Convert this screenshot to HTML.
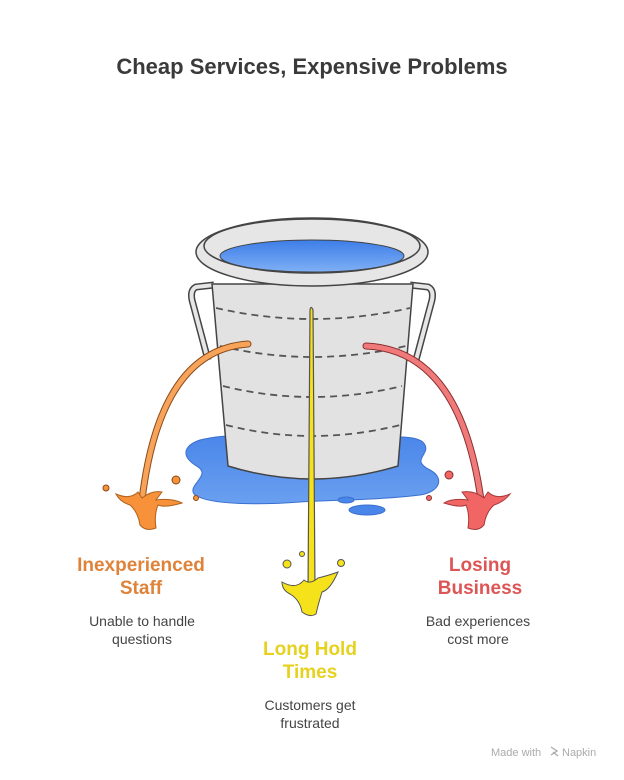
<!DOCTYPE html>
<html><head><meta charset="utf-8"><style>
html,body{margin:0;padding:0;background:#fff;}
svg{display:block;}
text{font-family:"Liberation Sans",sans-serif;}
</style></head><body>
<svg width="624" height="780" viewBox="0 0 624 780" xmlns="http://www.w3.org/2000/svg">
<defs>
<linearGradient id="w" x1="0" y1="0" x2="0" y2="1"><stop offset="0" stop-color="#3d7de8"/><stop offset="1" stop-color="#7fb0f5"/></linearGradient>
<linearGradient id="p" x1="0" y1="0" x2="0" y2="1"><stop offset="0" stop-color="#4a86ea"/><stop offset="1" stop-color="#6aa0f0"/></linearGradient>
</defs>
<text x="312" y="74" text-anchor="middle" font-size="22" font-weight="bold" fill="#3a3a3a">Cheap Services, Expensive Problems</text>

<!-- puddle -->
<path d="M200 440 C240 430 300 438 330 440 C380 438 420 432 425 445 C430 455 410 460 430 470 C445 478 440 492 420 495 C380 500 330 500 300 502 C260 505 210 505 195 495 C185 485 215 475 195 465 C180 455 185 445 200 440Z" fill="url(#p)" stroke="#3a6fd0" stroke-width="1"/>
<ellipse cx="346" cy="500" rx="8" ry="3" fill="#4a86ea" stroke="#3a6fd0"/>
<ellipse cx="367" cy="510" rx="18" ry="5" fill="#4a86ea" stroke="#3a6fd0"/>

<!-- handles -->
<path d="M214 285 L196 287 Q190 290 192 300 L208 360" fill="none" stroke="#444" stroke-width="7"/>
<path d="M214 285 L196 287 Q190 290 192 300 L208 360" fill="none" stroke="#e6e6e6" stroke-width="4"/>
<path d="M410 285 L428 287 Q434 290 432 300 L416 360" fill="none" stroke="#444" stroke-width="7"/>
<path d="M410 285 L428 287 Q434 290 432 300 L416 360" fill="none" stroke="#e6e6e6" stroke-width="4"/>

<!-- body -->
<path d="M212 284 L228 466 Q312 492 398 466 L413 284 Z" fill="#e2e2e2" stroke="#444" stroke-width="1.5"/>
<g fill="none" stroke="#555" stroke-width="1.8" stroke-dasharray="7 5">
<path d="M216 308 Q312 330 410 308"/>
<path d="M220 346 Q312 368 406 346"/>
<path d="M223 386 Q312 408 402 386"/>
<path d="M226 425 Q312 447 400 425"/>
</g>
<!-- rim -->
<ellipse cx="312" cy="252" rx="116" ry="34" fill="#e6e6e6" stroke="#444" stroke-width="1.5"/>
<ellipse cx="312" cy="246" rx="108" ry="27" fill="#e6e6e6" stroke="#444" stroke-width="1.5"/>
<ellipse cx="312" cy="256" rx="92" ry="16" fill="url(#w)" stroke="#444" stroke-width="1"/>

<!-- orange stream -->
<path d="M248 344 Q160 350 142 500" fill="none" stroke="#8a4a1a" stroke-width="7" stroke-linecap="round"/>
<path d="M248 344 Q160 350 142 500" fill="none" stroke="#f7a45a" stroke-width="5" stroke-linecap="round"/>
<path d="M116 494 Q130 500 138 492 L142 498 Q152 490 162 492 L156 500 Q172 498 182 503 Q165 508 158 505 Q154 515 156 528 Q146 532 140 525 Q138 512 130 505 Q120 502 116 494Z" fill="#f7913a" stroke="#b0621e" stroke-width="1"/>
<circle cx="106" cy="488" r="3" fill="#f7913a" stroke="#8a4a1a"/>
<circle cx="176" cy="480" r="4" fill="#f7913a" stroke="#8a4a1a"/>
<circle cx="196" cy="498" r="2.5" fill="#f7913a" stroke="#8a4a1a"/>

<!-- red stream -->
<path d="M366 346 Q460 350 481 500" fill="none" stroke="#8a3030" stroke-width="7" stroke-linecap="round"/>
<path d="M366 346 Q460 350 481 500" fill="none" stroke="#f07a7a" stroke-width="5" stroke-linecap="round"/>
<path d="M510 494 Q496 500 488 492 L484 498 Q474 490 462 492 L468 500 Q452 498 444 503 Q460 508 466 505 Q470 515 468 528 Q478 532 484 525 Q486 512 494 505 Q504 502 510 494Z" fill="#f26565" stroke="#a83a3a" stroke-width="1"/>
<circle cx="449" cy="475" r="4" fill="#f26565" stroke="#8a3030"/>
<circle cx="429" cy="498" r="2.5" fill="#f26565" stroke="#8a3030"/>

<!-- yellow stream -->
<path d="M308 590 L310 310 Q311 305 313 310 L315 590 Z" fill="#f5e21a" stroke="#555" stroke-width="1.2"/>
<path d="M282 582 Q296 590 304 580 Q310 585 318 578 Q330 575 338 572 Q330 590 322 592 Q318 605 316 614 Q310 618 302 612 Q300 600 290 594 Q282 590 282 582Z" fill="#f5e21a" stroke="#555" stroke-width="1"/>
<circle cx="287" cy="564" r="4" fill="#f5e21a" stroke="#555"/>
<circle cx="302" cy="554" r="2.5" fill="#f5e21a" stroke="#555"/>
<circle cx="341" cy="563" r="3.5" fill="#f5e21a" stroke="#555"/>

<!-- labels -->
<g font-weight="bold" font-size="19" text-anchor="middle">
<text x="141" y="571" fill="#e0833a">Inexperienced</text>
<text x="141" y="594" fill="#e0833a">Staff</text>
<text x="480" y="571" fill="#dd5656">Losing</text>
<text x="480" y="594" fill="#dd5656">Business</text>
<text x="310" y="655" fill="#e6d21e">Long Hold</text>
<text x="310" y="678" fill="#e6d21e">Times</text>
</g>
<g font-size="14" text-anchor="middle" fill="#444">
<text x="142" y="626">Unable to handle</text>
<text x="142" y="644">questions</text>
<text x="478" y="626">Bad experiences</text>
<text x="478" y="644">cost more</text>
<text x="310" y="710">Customers get</text>
<text x="310" y="728">frustrated</text>
</g>
<text x="491" y="756" font-size="11" fill="#aaa">Made with</text>
<path d="M551 747 l6 4 l-6 4 M553 752 l5 4" stroke="#aaa" stroke-width="1.3" fill="none"/>
<text x="562" y="756" font-size="11" fill="#aaa">Napkin</text>
</svg>
</body></html>
